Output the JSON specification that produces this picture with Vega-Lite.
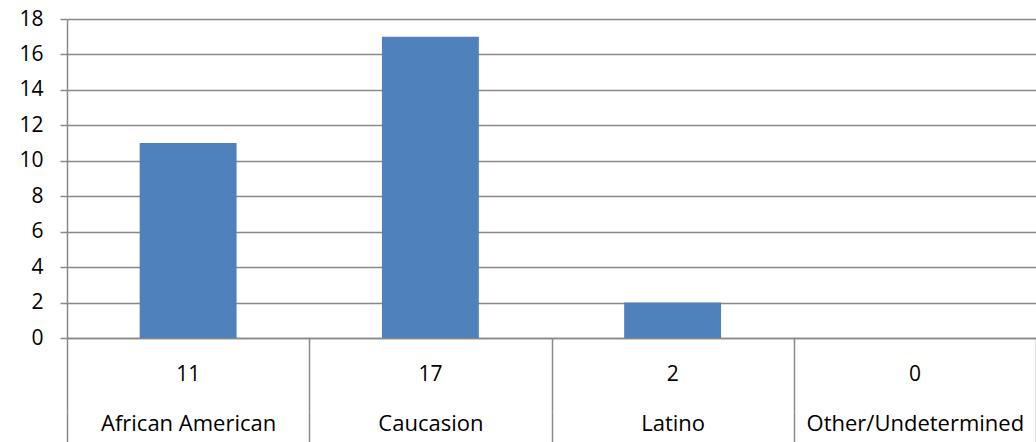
{
  "$schema": "https://vega.github.io/schema/vega-lite/v6.json",
  "padding": {"left": 18, "top": 8, "right": 0, "bottom": 0},
  "background": "white",
  "bounds": "flush",
  "data": {"values": [
    {"race": "African American", "count": 11},
    {"race": "Caucasion", "count": 17},
    {"race": "Latino", "count": 2},
    {"race": "Other/Undetermined", "count": 0}
  ]},
  "spacing": 0,
  "config": {
    "view": {"stroke": null},
    "font": "Open Sans",
    "axis": {"labelFont": "Open Sans", "labelColor": "#000000", "labelFontSize": 21, "domainColor": "#898989", "tickColor": "#898989", "gridColor": "#898989", "domainWidth": 1.5, "tickWidth": 1.5, "gridWidth": 1.5, "title": null, "labelLimit": 0}
  },
  "vconcat": [
    {
      "width": 969,
      "height": 319,
      "mark": {"type": "bar", "color": "#4F81BD"},
      "encoding": {
        "x": {"field": "race", "type": "nominal", "sort": null,
          "scale": {"paddingInner": 0.6, "paddingOuter": 0.3},
          "axis": {"labels": false, "ticks": false, "grid": false, "minExtent": 0, "maxExtent": 0}},
        "y": {"field": "count", "type": "quantitative",
          "scale": {"domain": [0, 18], "nice": false},
          "axis": {"values": [0, 2, 4, 6, 8, 10, 12, 14, 16, 18], "tickSize": 7, "labelPadding": 17, "grid": true}}
      }
    },
    {
      "width": 969,
      "height": 74,
      "mark": {"type": "text", "fontSize": 21, "color": "#000000", "font": "Open Sans"},
      "encoding": {
        "x": {"field": "race", "type": "nominal", "sort": null,
          "scale": {"paddingInner": 0, "paddingOuter": 0},
          "axis": {"domain": false, "tickBand": "extent", "tickSize": 31, "labelPadding": -30, "labelFontSize": 22, "grid": true, "labelAngle": 0}},
        "text": {"field": "count", "type": "quantitative"}
      }
    }
  ]
}
